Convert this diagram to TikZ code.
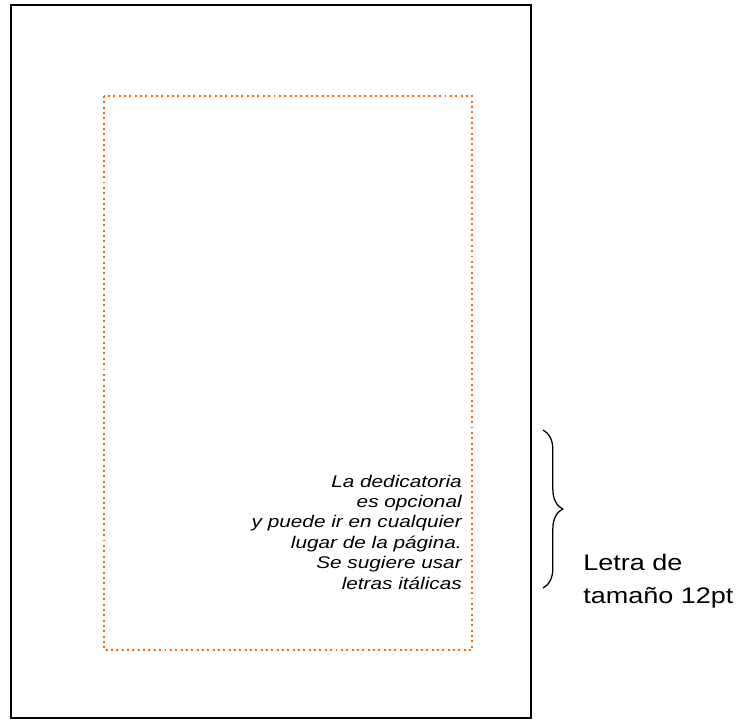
\documentclass[tikz,border=0pt]{standalone}
\usepackage{xcolor}
\usepackage{fontspec}
\usepackage{tikz}
\usetikzlibrary{decorations.pathreplacing}
\setmainfont{Liberation Sans}
\newfontfamily\letraancha[FakeStretch=1.2]{Liberation Sans}
\newfontfamily\cursivaancha[FakeStretch=1.23]{Liberation Sans}
\definecolor{naranja}{RGB}{255,102,0}

\begin{document}
\begin{tikzpicture}[x=0.025cm,y=-0.025cm]
        \useasboundingbox (0,0) rectangle (737,719);
        % hoja
        \draw[line width=1.2pt] (11,5) rectangle (531,718);
        % margen punteado
        \draw[naranja,line width=1.4pt,dash pattern=on 1.4pt off 2.4pt] (104,96) rectangle (472,650);
        % texto de la dedicatoria (base = ultima linea)
        \node[anchor=base east,align=right,inner sep=0pt,
              font=\cursivaancha\itshape\fontsize{12}{14.5}\selectfont] (dedicatoria) at (462,589)
              {La dedicatoria\\es opcional\\y puede ir en cualquier\\lugar de la página.\\Se sugiere usar\\letras itálicas};
        % llave y nota
        \coordinate (llavearriba) at (543,430);
        \coordinate (llaveabajo) at (543,588);
        \draw[line width=0.9pt,decorate,decoration={brace,amplitude=14pt}] (llavearriba) -- (llaveabajo);
        \node[anchor=base west,align=left,inner sep=0pt,
              font=\letraancha\fontsize{16}{22.8}\selectfont] (nota) at (583,603)
              {Letra de\\tamaño 12pt};
\end{tikzpicture}
\end{document}
